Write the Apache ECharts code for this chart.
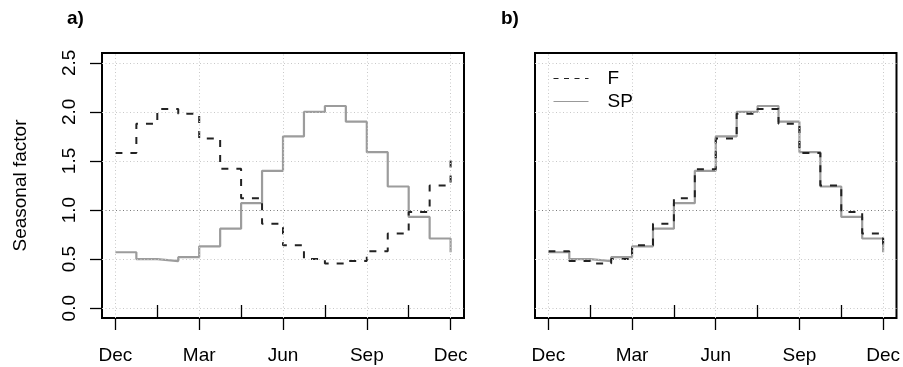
<!DOCTYPE html>
<html>
	<head>
		<meta charset="UTF-8">
		<title>Seasonal factor</title>
		<script src="https://cdn.jsdelivr.net/npm/echarts@6/dist/echarts.min.js" type="text/javascript" charset="utf-8"></script>
		<style>
			html, body { margin: 0; padding: 0; background: #fff; }
			#chart { width: 903px; height: 367px; }
		</style>
	</head>
	<body>
		<div id="chart"></div>
		<script type="text/javascript">
			// month ticks (0 = Dec) and labels
			var monthTicks = [0, 3, 6, 9, 12];
			var monthLabels = ['Dec', 'Mar', 'Jun', 'Sep', 'Dec'];
			var midTicks = [1.5, 4.5, 7.5, 10.5];
			var yTicks = [0, 0.5, 1, 1.5, 2, 2.5];

			// 16 steps per year
			var spA = [0.57, 0.50, 0.48, 0.52, 0.63, 0.81, 1.07, 1.40, 1.75, 2.00, 2.06, 1.90, 1.59, 1.24, 0.93, 0.71];
			var fA  = [1.58, 1.88, 2.03, 1.98, 1.73, 1.42, 1.12, 0.86, 0.64, 0.50, 0.455, 0.48, 0.58, 0.76, 0.98, 1.25];
			var spB = [0.57, 0.50, 0.48, 0.52, 0.63, 0.81, 1.07, 1.40, 1.75, 2.00, 2.06, 1.90, 1.59, 1.24, 0.93, 0.71];
			var fB  = [0.58, 0.48, 0.455, 0.50, 0.64, 0.86, 1.12, 1.415, 1.73, 1.98, 2.03, 1.88, 1.58, 1.25, 0.98, 0.76];

			var FONT = 'Liberation Sans, Arial, Helvetica, sans-serif';

			// step points: each value starts at i*12/n, last one closes back on the first value
			function steps(vals) {
				var n = vals.length, out = [];
				for (var i = 0; i < n; i++) out.push([i * 12 / n, vals[i]]);
				out.push([12, vals[0]]);
				return out;
			}

			function gridLines() {
				var d = [];
				for (var i = 0; i < monthTicks.length; i++) d.push({ xAxis: monthTicks[i] });
				for (var j = 0; j < yTicks.length; j++) {
					if (yTicks[j] === 1) continue;
					d.push({ yAxis: yTicks[j] });
				}
				d.push({ yAxis: 1, lineStyle: { color: '#7a7a7a', type: [1, 2.5], width: 1 } });
				return d;
			}

			var grids = [
				{ left: 102, top: 53, width: 362, height: 265 },
				{ left: 535, top: 53, width: 362, height: 265 }
			];
			var panels = [
				{ sp: spA, f: fA },
				{ sp: spB, f: fB }
			];

			var option = {
				animation: false,
				backgroundColor: '#fff',
				textStyle: { fontFamily: FONT },
				title: [
					{ text: 'a)', left: 67, top: 9, padding: 0,
					  textStyle: { fontSize: 19, fontWeight: 'bold', color: '#000', fontFamily: FONT } },
					{ text: 'b)', left: 501, top: 9, padding: 0,
					  textStyle: { fontSize: 19, fontWeight: 'bold', color: '#000', fontFamily: FONT } }
				],
				legend: {
					orient: 'vertical',
					left: 553,
					top: 69,
					padding: 0,
					itemWidth: 35,
					itemHeight: 14,
					itemGap: 4,
					selectedMode: false,
					itemStyle: { opacity: 0 },
					textStyle: { fontSize: 19, color: '#000', padding: [0, 0, 0, 14], fontFamily: FONT },
					data: [
						{ name: 'F', itemStyle: { opacity: 0 }, lineStyle: { width: 1, type: [5, 5.5], color: '#222', opacity: 1 } },
						{ name: 'SP', itemStyle: { opacity: 0 }, lineStyle: { width: 1, type: 'solid', color: '#999', opacity: 1 } }
					]
				},
				grid: [],
				xAxis: [],
				yAxis: [],
				series: []
			};

			for (var g = 0; g < 2; g++) {
				var gr = grids[g];
				option.grid.push({
					left: gr.left, top: gr.top, width: gr.width, height: gr.height,
					show: true, borderColor: '#000', borderWidth: 2, backgroundColor: 'transparent'
				});
				// outer ticks with month labels
				option.xAxis.push({
					type: 'value', gridIndex: g, position: 'bottom', min: -0.48, max: 12.48,
					axisLine: { show: false, onZero: false },
					splitLine: { show: false },
					axisTick: { show: true, customValues: monthTicks, length: 12, lineStyle: { color: '#000', width: 1.3 } },
					axisLabel: {
						show: true, customValues: monthTicks, margin: 28, fontSize: 19, color: '#000', fontFamily: FONT,
						formatter: function (v) { return monthLabels[monthTicks.indexOf(v)]; }
					}
				});
				// inner ticks half way between
				option.xAxis.push({
					type: 'value', gridIndex: g, position: 'bottom', min: -0.48, max: 12.48,
					axisLine: { show: false, onZero: false },
					splitLine: { show: false },
					axisTick: { show: true, inside: true, customValues: midTicks, length: 13, lineStyle: { color: '#000', width: 1.3 } },
					axisLabel: { show: false }
				});
				option.yAxis.push({
					type: 'value', gridIndex: g, position: 'left', min: -0.1, max: 2.6,
					axisLine: { show: false, onZero: false },
					splitLine: { show: false },
					axisTick: { show: g === 0, inside: false, customValues: yTicks, length: 12, lineStyle: { color: '#000', width: 1.3 } },
					axisLabel: {
						show: g === 0, customValues: yTicks, rotate: 90, margin: 23, fontSize: 19, color: '#000', fontFamily: FONT,
						formatter: function (v) { return v.toFixed(1); }
					},
					name: g === 0 ? 'Seasonal factor' : '',
					nameLocation: 'middle',
					nameGap: 72,
					nameTextStyle: { fontSize: 19, color: '#000', fontFamily: FONT }
				});

				// dotted grid
				option.series.push({
					type: 'line', xAxisIndex: g * 2, yAxisIndex: g, data: [], z: 1, silent: true,
					markLine: {
						silent: true, symbol: ['none', 'none'], label: { show: false },
						lineStyle: { color: '#c8c8c8', type: [1, 2.5], width: 1 },
						emphasis: { disabled: true },
						data: gridLines()
					}
				});
				option.series.push({
					name: 'SP', type: 'line', xAxisIndex: g * 2, yAxisIndex: g, z: 3,
					step: 'end', symbol: 'none', data: steps(panels[g].sp),
					lineStyle: { color: '#9c9c9c', width: 2.2, type: 'solid' },
					itemStyle: { color: '#9c9c9c' }
				});
				option.series.push({
					name: 'F', type: 'line', xAxisIndex: g * 2, yAxisIndex: g, z: 4,
					step: 'end', symbol: 'none', data: steps(panels[g].f),
					lineStyle: { color: '#222', width: 2, type: [7, 8] },
					itemStyle: { color: '#222' }
				});
			}

			var myChart = echarts.init(document.getElementById('chart'));
			myChart.setOption(option);
		</script>
	</body>
</html>
